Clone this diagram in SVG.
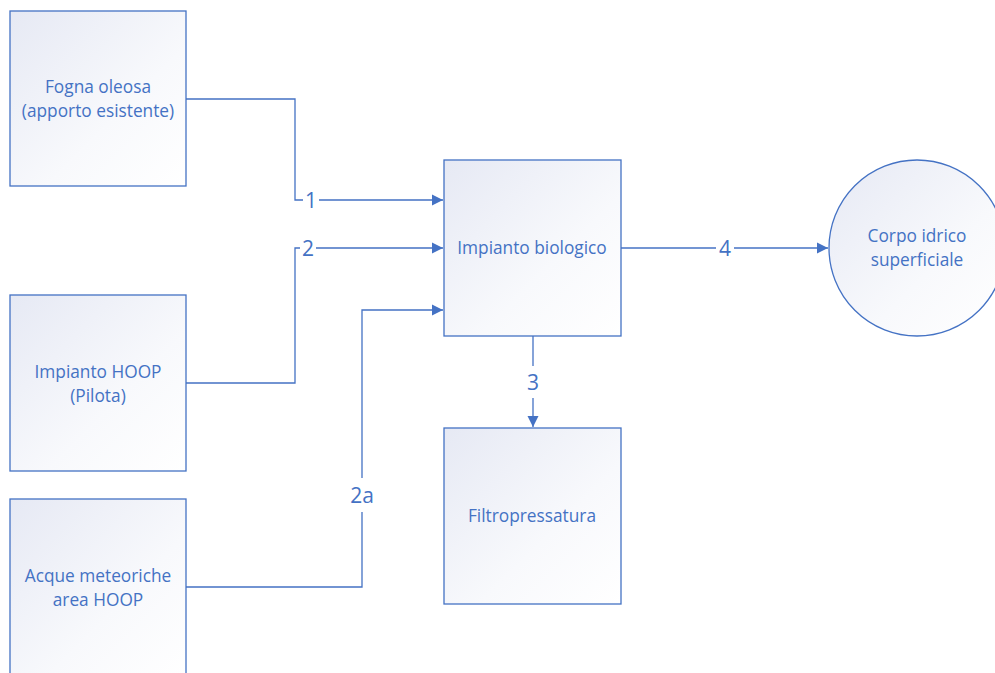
<svg xmlns="http://www.w3.org/2000/svg" width="995" height="673" viewBox="0 0 995 673">
<style>
.node{stroke:#4472C4;stroke-width:1.3;fill:url(#g)}
.t{font-family:"Open Sans","Liberation Sans",sans-serif;font-size:17.3px;fill:#4472C4;text-anchor:middle}
.c{fill:none;stroke:#4472C4;stroke-width:1.3}
.lbl{font-family:"Open Sans","Liberation Sans",sans-serif;font-size:21px;fill:#4472C4;text-anchor:middle}
.bg{fill:#fff}
</style>
<defs>
<linearGradient id="g" x1="0" y1="0" x2="1" y2="1">
<stop offset="0" stop-color="#e6e9f4"/>
<stop offset="0.6" stop-color="#f8f9fc"/>
<stop offset="1" stop-color="#ffffff"/>
</linearGradient>
<marker id="a" markerWidth="12" markerHeight="12" refX="11" refY="6" orient="auto" markerUnits="userSpaceOnUse">
<path d="M0,0.5 L11,6 L0,11.5 z" fill="#4472C4"/>
</marker>
</defs>
<rect width="995" height="673" fill="#fff"/>
<g id="connectors">
<path class="c" d="M186,99 H295 V200 H443" marker-end="url(#a)"/>
<path class="c" d="M186,383 H295 V248 H443" marker-end="url(#a)"/>
<path class="c" d="M186,587 H362 V310 H443" marker-end="url(#a)"/>
<path class="c" d="M533,336 V427" marker-end="url(#a)"/>
<path class="c" d="M621,248 H828" marker-end="url(#a)"/>
<rect class="bg" x="303" y="188" width="16" height="24"/>
<text class="lbl" x="311" y="208">1</text>
<rect class="bg" x="300" y="236" width="16" height="24"/>
<text class="lbl" x="308" y="256">2</text>
<rect class="bg" x="347" y="478" width="30" height="34"/>
<text class="lbl" x="362" y="503">2a</text>
<rect class="bg" x="522" y="366" width="22" height="32"/>
<text class="lbl" x="533" y="390">3</text>
<rect class="bg" x="716" y="236" width="18" height="24"/>
<text class="lbl" x="725" y="256">4</text>
</g>
<g id="n1"><rect class="node" x="10" y="11" width="176" height="175"/>
<text class="t" x="98" y="93">Fogna oleosa</text><text class="t" x="98" y="117">(apporto esistente)</text></g>
<g id="n2"><rect class="node" x="10" y="295" width="176" height="176"/>
<text class="t" x="98" y="378">Impianto HOOP</text><text class="t" x="98" y="402">(Pilota)</text></g>
<g id="n3"><rect class="node" x="10" y="499" width="176" height="180"/>
<text class="t" x="98" y="582">Acque meteoriche</text><text class="t" x="98" y="606">area HOOP</text></g>
<g id="n4"><rect class="node" x="444" y="160" width="177" height="176"/>
<text class="t" x="532" y="254">Impianto biologico</text></g>
<g id="n5"><rect class="node" x="444" y="428" width="177" height="176"/>
<text class="t" x="532" y="522">Filtropressatura</text></g>
<g id="n6"><circle class="node" cx="917" cy="248" r="88"/>
<text class="t" x="917" y="242">Corpo idrico</text><text class="t" x="917" y="266">superficiale</text></g>
</svg>
